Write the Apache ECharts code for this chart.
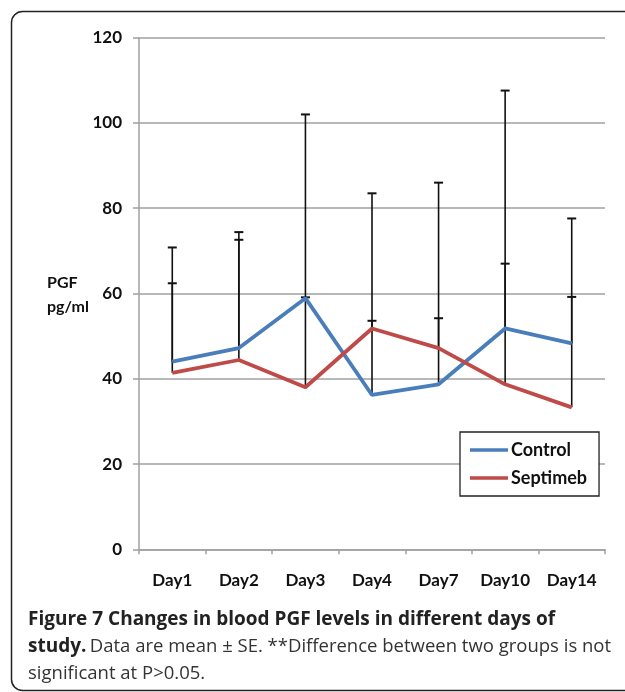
<!DOCTYPE html>
<html>
<head>
<meta charset="utf-8">
<script src="https://cdn.jsdelivr.net/npm/echarts@6/dist/echarts.min.js"></script>
<style>
html,body{margin:0;padding:0;background:#fff;}
#chart{width:625px;height:692px;}
</style>
</head>
<body>
<div id="chart"></div>
<script>
var categories = ['Day1', 'Day2', 'Day3', 'Day4', 'Day7', 'Day10', 'Day14'];
var controlMean = [44.0, 47.2, 58.9, 36.2, 38.7, 51.8, 48.3];
var septimebMean = [41.4, 44.4, 38.0, 51.8, 47.2, 38.7, 33.3];
var controlUpper = [70.8, 74.4, 102.0, 83.5, 86.0, 107.6, 77.6];
var septimebUpper = [62.4, 72.6, 59.1, 53.6, 54.2, 67.0, 59.2];
var yTicks = [0, 20, 40, 60, 80, 100, 120];

var chart = echarts.init(document.getElementById('chart'));
var FONT = 'Lato';

function errData(mean, upper) {
  return mean.map(function (m, i) { return [i, m, upper[i]]; });
}
function renderErr(params, api) {
  var i = api.value(0);
  var p0 = api.coord([i, api.value(1)]);
  var p1 = api.coord([i, api.value(2)]);
  var hw = 4.5;
  var st = { stroke: '#111', lineWidth: 1.6 };
  return {
    type: 'group',
    children: [
      { type: 'line', shape: { x1: p0[0], y1: p0[1], x2: p1[0], y2: p1[1] }, style: st },
      { type: 'line', shape: { x1: p1[0] - hw, y1: p1[1], x2: p1[0] + hw, y2: p1[1] }, style: { stroke: '#111', lineWidth: 2 } }
    ]
  };
}

var option = {
  animation: false,
  backgroundColor: '#fff',
  grid: { left: 139, right: 20, top: 37.7, bottom: 142.7, containLabel: false },
  xAxis: {
    type: 'category',
    data: categories,
    boundaryGap: true,
    axisLine: { lineStyle: { color: '#a0a0a0', width: 1.5 } },
    axisTick: { show: true, length: 5, lineStyle: { color: '#a0a0a0', width: 1.5 } },
    axisLabel: { margin: 23, color: '#111', fontFamily: FONT, fontWeight: 'bold', fontSize: 17 },
    splitLine: { show: false }
  },
  yAxis: {
    type: 'value',
    min: 0, max: 120, interval: 20,
    axisLine: { show: true, lineStyle: { color: '#a0a0a0', width: 1.5 } },
    axisTick: { show: true, length: 6, lineStyle: { color: '#a0a0a0', width: 1.5 } },
    axisLabel: {
      margin: 17, color: '#111', fontFamily: FONT, fontWeight: 'bold', fontSize: 17,
      formatter: function (v) { return yTicks.indexOf(v) >= 0 ? String(v) : ''; }
    },
    splitLine: { show: true, lineStyle: { color: '#a0a0a0', width: 1.5 } }
  },
  legend: {
    orient: 'vertical',
    left: 460, top: 432,
    data: ['Control', 'Septimeb'],
    icon: 'rect',
    itemWidth: 38, itemHeight: 3.5,
    itemGap: 10,
    itemStyle: { borderWidth: 0 },
    padding: [9, 12, 9, 10],
    borderColor: '#222', borderWidth: 1.3,
    backgroundColor: '#fff',
    textStyle: { fontFamily: FONT, fontWeight: 'bold', fontSize: 18, color: '#111', padding: [0, 0, 0, -2] }
  },
  series: [
    {
      name: 'errC', type: 'custom', renderItem: renderErr, data: errData(controlMean, controlUpper),
      encode: { x: 0, y: [1, 2] }, z: 1, silent: true
    },
    {
      name: 'errS', type: 'custom', renderItem: renderErr, data: errData(septimebMean, septimebUpper),
      encode: { x: 0, y: [1, 2] }, z: 1, silent: true
    },
    {
      name: 'Control', type: 'line', data: controlMean, showSymbol: false, symbol: 'none',
      lineStyle: { color: '#4a7ebb', width: 3.8 }, itemStyle: { color: '#4a7ebb' }, z: 3
    },
    {
      name: 'Septimeb', type: 'line', data: septimebMean, showSymbol: false, symbol: 'none',
      lineStyle: { color: '#be4b48', width: 3.8 }, itemStyle: { color: '#be4b48' }, z: 3
    }
  ],
  graphic: [
    {
      type: 'rect', z: -10,
      shape: { x: 11.5, y: 11.5, width: 700, height: 679, r: 11 },
      style: { fill: 'none', stroke: '#222', lineWidth: 1.5 }
    },
    {
      type: 'text', left: 47, top: 271,
      style: { text: 'PGF\npg/ml', align: 'center', fontFamily: FONT, fontWeight: 'bold', fontSize: 16, lineHeight: 24, fill: '#111' }
    },
    {
      type: 'text', left: 28, top: 606,
      style: {
        text: '{b|Figure 7 Changes in blood PGF levels in different days of}\n{b|study.} {n|Data are mean \u00b1 SE. **Difference between two groups is not}\n{n|significant at P>0.05.}',
        lineHeight: 27,
        rich: {
          b: { fontFamily: 'Open Sans', fontWeight: 'bold', fontSize: 19, fill: '#222', lineHeight: 27 },
          n: { fontFamily: 'Open Sans', fontWeight: 'normal', fontSize: 18.5, fill: '#333', lineHeight: 27 }
        }
      }
    }
  ]
};
chart.setOption(option);
</script>
</body>
</html>
